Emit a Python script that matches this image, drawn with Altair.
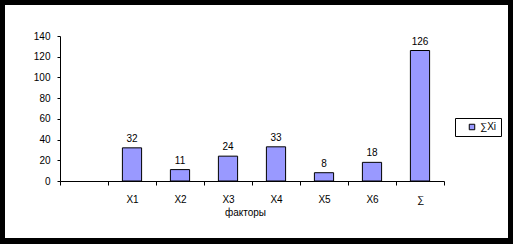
import altair as alt
import pandas as pd

categories = ["", "X1", "X2", "X3", "X4", "X5", "X6", "∑"]
bar_cats = ["X1", "X2", "X3", "X4", "X5", "X6", "∑"]
values = [32, 11, 24, 33, 8, 18, 126]
series = "∑Xi"
y_ticks = [0, 20, 40, 60, 80, 100, 120, 140]

df = pd.DataFrame({"cat": bar_cats, "val": values, "series": [series] * len(values)})

FONT = "Liberation Sans"

x_enc = alt.X(
    "cat:N",
    sort=categories,
    scale=alt.Scale(domain=categories, paddingInner=0, paddingOuter=0),
    axis=alt.Axis(
        title="факторы",
        labelAngle=0,
        tickBand="extent",
        tickSize=4,
        labelPadding=9,
        titlePadding=3,
        titleX=185,
        domainColor="black",
        tickColor="black",
        zindex=1,
    ),
)
y_enc = alt.Y(
    "val:Q",
    scale=alt.Scale(domain=[0, 140], nice=False),
    axis=alt.Axis(
        title=None,
        values=y_ticks,
        grid=False,
        tickSize=3,
        labelPadding=7,
        labelOverlap=False,
        labelFlush=False,
        domainColor="black",
        tickColor="black",
        zindex=1,
    ),
)

frame = alt.Chart(df).mark_rect(color="white").encode(
    x=alt.value(-55), x2=alt.value(448), y=alt.value(-31), y2=alt.value(202)
)

bars = alt.Chart(df).mark_bar(
    width={"band": 0.4}, stroke="black", strokeWidth=1
).encode(
    x=x_enc,
    y=y_enc,
    color=alt.Color(
        "series:N",
        scale=alt.Scale(range=["#9999FF"]),
        legend=alt.Legend(
            title=None,
            orient="none",
            legendX=395,
            legendY=82,
            strokeColor="black",
            padding=4,
            symbolType="square",
            symbolSize=30,
            symbolStrokeColor="black",
            symbolStrokeWidth=1,
            symbolOffset=8,
            labelOffset=3,
            labelFont=FONT,
            labelFontSize=10,
            labelColor="black",
            zindex=1,
        ),
    ),
)

labels = alt.Chart(df).mark_text(
    baseline="alphabetic", dy=-6, font=FONT, fontSize=10, color="black"
).encode(x=x_enc, y=y_enc, text="val:Q")

chart = alt.layer(frame, bars, labels).properties(
    width=384,
    height=145,
    background="black",
    padding={"left": 60, "top": 36, "right": 69, "bottom": 63},
    autosize=alt.AutoSizeParams(type="none"),
).configure_view(stroke=None).configure_axis(
    labelFont=FONT, labelFontSize=10, labelColor="black",
    titleFont=FONT, titleFontSize=10, titleColor="black", titleFontWeight="normal",
)

chart.save("out.html", embed_options={"renderer": "svg", "actions": False})
